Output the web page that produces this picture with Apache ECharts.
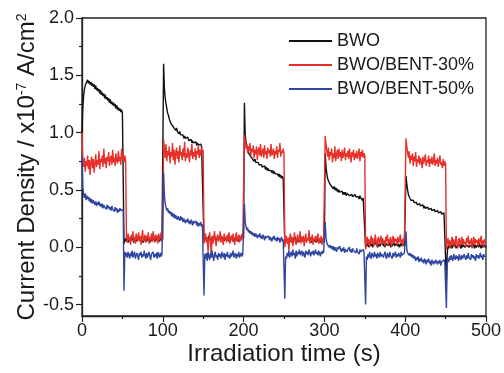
<!DOCTYPE html>
<html><head><meta charset="utf-8">
<script src="https://cdn.jsdelivr.net/npm/echarts@6/dist/echarts.min.js"></script>
<style>html,body{margin:0;padding:0;background:#fff}#c{width:504px;height:373px}</style>
</head><body><div id="c"></div>
<script>
// sampling clock of the recorded traces (seconds between samples)
const SAMPLE_STEP_S = 1;
const seriesNames = ['BWO', 'BWO/BENT-30%', 'BWO/BENT-50%'];
// 10 samples per line, 5 lines per 50 s block; last value = t=500 s
const bwo = [
  1.00,1.22,1.32,1.38,1.41,1.43,1.44,1.46,1.43,1.45,
  1.42,1.44,1.41,1.43,1.40,1.42,1.38,1.41,1.37,1.39,
  1.36,1.38,1.34,1.37,1.33,1.35,1.32,1.34,1.30,1.33,
  1.29,1.31,1.28,1.30,1.26,1.29,1.25,1.27,1.24,1.26,
  1.23,1.25,1.21,1.24,1.20,1.22,1.19,1.21,1.18,1.20,
  1.17,1.16,0.03,0.07,0.05,0.09,0.06,0.04,0.08,0.07,
  0.05,0.09,0.06,0.08,0.04,0.07,0.09,0.05,0.08,0.06,
  0.07,0.10,0.05,0.08,0.06,0.07,0.04,0.09,0.06,0.08,
  0.05,0.07,0.09,0.06,0.04,0.08,0.07,0.05,0.09,0.06,
  0.08,0.05,0.07,0.10,0.06,0.08,0.05,0.07,0.09,0.06,
  0.07,1.60,1.38,1.30,1.25,1.21,1.17,1.15,1.12,1.11,
  1.08,1.09,1.06,1.07,1.04,1.05,1.02,1.04,1.01,1.02,
  0.99,1.01,0.98,0.99,0.97,0.98,0.95,0.97,0.95,0.96,
  0.94,0.96,0.93,0.94,0.92,0.94,0.91,0.93,0.91,0.92,
  0.90,0.92,0.89,0.91,0.89,0.90,0.88,0.90,0.88,0.89,
  0.88,0.05,0.08,0.06,0.09,0.05,0.07,0.10,0.06,0.08,
  0.05,0.09,0.07,0.06,0.10,0.07,0.05,0.08,0.09,0.06,
  0.08,0.07,0.10,0.06,0.09,0.05,0.08,0.06,0.07,0.09,
  0.06,0.08,0.05,0.09,0.07,0.06,0.10,0.05,0.08,0.07,
  0.09,0.06,0.08,0.05,0.07,0.10,0.06,0.08,0.07,0.09,
  0.08,1.26,0.98,0.92,0.88,0.85,0.84,0.81,0.82,0.79,
  0.80,0.77,0.78,0.75,0.77,0.74,0.75,0.73,0.74,0.72,
  0.73,0.71,0.72,0.70,0.71,0.69,0.71,0.68,0.70,0.67,
  0.69,0.67,0.68,0.66,0.67,0.65,0.67,0.64,0.66,0.64,
  0.65,0.63,0.64,0.62,0.64,0.61,0.63,0.60,0.62,0.60,
  0.61,0.03,0.07,0.05,0.08,0.04,0.06,0.09,0.05,0.07,
  0.04,0.08,0.06,0.05,0.09,0.06,0.04,0.07,0.08,0.05,
  0.07,0.06,0.09,0.05,0.07,0.04,0.08,0.06,0.05,0.08,
  0.06,0.09,0.05,0.07,0.04,0.06,0.08,0.05,0.07,0.06,
  0.04,0.07,0.05,0.08,0.06,0.04,0.07,0.05,0.06,0.05,
  0.05,0.82,0.70,0.64,0.60,0.58,0.57,0.55,0.56,0.53,
  0.54,0.51,0.53,0.50,0.52,0.49,0.51,0.48,0.50,0.48,
  0.49,0.47,0.49,0.46,0.48,0.46,0.48,0.45,0.47,0.46,
  0.47,0.45,0.46,0.44,0.46,0.44,0.45,0.43,0.46,0.44,
  0.45,0.43,0.44,0.42,0.45,0.43,0.44,0.41,0.43,0.42,
  0.43,0.00,0.03,0.01,0.04,0.00,0.02,0.05,0.01,0.03,
  0.00,0.04,0.02,0.01,0.05,0.02,0.00,0.03,0.04,0.01,
  0.03,0.02,0.05,0.01,0.03,0.00,0.04,0.02,0.01,0.03,
  0.02,0.04,0.00,0.03,0.01,0.02,0.05,0.01,0.03,0.02,
  0.04,0.01,0.03,0.00,0.02,0.04,0.01,0.03,0.02,0.01,
  0.02,0.62,0.55,0.50,0.46,0.44,0.43,0.41,0.42,0.40,
  0.41,0.39,0.40,0.38,0.39,0.37,0.38,0.36,0.38,0.36,
  0.37,0.35,0.37,0.34,0.36,0.34,0.35,0.33,0.35,0.33,
  0.34,0.32,0.34,0.32,0.33,0.31,0.33,0.31,0.32,0.30,
  0.32,0.30,0.31,0.29,0.31,0.29,0.30,0.28,0.30,0.29,
  0.30,-0.30,-0.05,0.01,-0.01,0.02,0.00,0.03,-0.01,0.01,
  0.02,0.00,0.03,-0.01,0.01,0.02,0.00,0.02,0.01,-0.01,
  0.03,0.00,0.02,0.01,0.00,-0.01,0.02,0.01,0.03,0.00,
  0.01,-0.01,0.02,0.00,0.03,0.01,-0.01,0.02,0.00,0.01,
  0.02,0.00,0.03,0.01,-0.01,0.02,0.00,0.01,0.02,0.00,
  0.01
];
const bent30 = [
  1.00,0.74,0.70,0.78,0.66,0.75,0.71,0.80,0.68,0.76,
  0.63,0.74,0.79,0.69,0.77,0.65,0.73,0.81,0.70,0.76,
  0.72,0.84,0.68,0.77,0.74,0.80,0.70,0.86,0.73,0.78,
  0.69,0.79,0.75,0.83,0.71,0.77,0.80,0.72,0.85,0.74,
  0.78,0.71,0.82,0.76,0.73,0.84,0.75,0.79,0.72,0.86,
  0.77,0.82,0.74,0.80,0.76,0.10,0.04,0.12,0.06,0.09,
  0.02,0.11,0.07,0.14,0.05,0.09,0.03,0.12,0.08,0.05,
  0.13,0.06,0.10,0.02,0.09,0.15,0.05,0.08,0.11,0.04,
  0.10,0.07,0.13,0.03,0.09,0.06,0.12,0.05,0.14,0.08,
  0.04,0.11,0.07,0.10,0.03,0.12,0.06,0.09,0.13,0.05,
  0.07,0.94,0.86,0.78,0.90,0.75,0.84,0.80,0.88,0.73,
  0.83,0.79,0.91,0.76,0.85,0.72,0.82,0.87,0.77,0.84,
  0.74,0.89,0.80,0.83,0.76,0.86,0.79,0.92,0.75,0.82,
  0.78,0.87,0.81,0.74,0.85,0.80,0.90,0.77,0.83,0.79,
  0.86,0.76,0.84,0.81,0.89,0.78,0.85,0.80,0.87,0.83,
  0.85,0.03,0.09,0.12,0.04,0.08,-0.04,0.07,0.13,0.05,
  -0.08,0.10,0.03,0.08,0.14,0.06,0.01,0.09,0.11,0.05,
  0.08,0.14,0.04,0.10,0.06,0.02,0.12,0.07,0.09,0.04,
  0.11,0.06,0.13,0.03,0.08,0.10,0.05,0.12,0.07,0.02,
  0.09,0.13,0.05,0.08,0.11,0.04,0.10,0.06,0.12,0.07,
  0.06,0.98,0.93,0.86,0.90,0.82,0.88,0.84,0.91,0.80,
  0.86,0.83,0.89,0.78,0.85,0.81,0.88,0.76,0.84,0.87,
  0.80,0.90,0.79,0.83,0.86,0.78,0.89,0.81,0.84,0.77,
  0.87,0.82,0.85,0.79,0.90,0.80,0.83,0.86,0.77,0.84,
  0.81,0.88,0.78,0.85,0.83,0.91,0.79,0.84,0.82,0.86,
  0.82,0.00,0.06,0.10,0.03,0.08,-0.03,0.07,0.12,0.04,
  0.09,0.01,0.06,0.13,0.05,0.02,0.08,0.11,0.04,0.07,
  0.14,0.03,0.09,0.05,0.10,0.01,0.07,0.12,0.04,0.08,
  0.06,0.15,0.03,0.09,0.05,0.11,0.02,0.08,0.06,0.10,
  0.04,0.09,0.12,0.03,0.07,0.05,0.10,0.02,0.08,0.06,
  0.05,0.97,0.90,0.84,0.79,0.87,0.76,0.83,0.80,0.86,
  0.74,0.82,0.78,0.88,0.75,0.81,0.85,0.77,0.86,0.79,
  0.83,0.75,0.85,0.78,0.81,0.87,0.76,0.82,0.79,0.84,
  0.77,0.86,0.80,0.74,0.83,0.79,0.85,0.76,0.82,0.78,
  0.84,0.77,0.81,0.86,0.75,0.83,0.79,0.85,0.78,0.82,
  0.80,-0.02,0.05,0.09,0.02,0.07,0.00,0.06,0.10,0.03,
  0.08,0.01,0.05,0.11,0.04,0.00,0.07,0.09,0.02,0.06,
  0.10,0.03,0.08,0.04,0.06,0.01,0.09,0.05,0.11,0.02,
  0.07,0.04,0.09,0.00,0.06,0.10,0.03,0.08,0.05,0.07,
  0.02,0.09,0.04,0.06,0.11,0.03,0.07,0.01,0.08,0.05,
  0.04,0.95,0.88,0.82,0.78,0.84,0.73,0.80,0.76,0.82,
  0.71,0.79,0.75,0.83,0.70,0.77,0.74,0.80,0.72,0.78,
  0.75,0.69,0.79,0.73,0.77,0.81,0.71,0.76,0.74,0.80,
  0.70,0.77,0.73,0.79,0.72,0.75,0.82,0.71,0.76,0.73,
  0.78,0.70,0.75,0.80,0.72,0.74,0.69,0.77,0.71,0.75,
  0.73,-0.02,0.04,0.08,0.01,0.06,-0.01,0.05,0.09,0.02,
  0.07,0.00,0.04,0.10,0.03,-0.01,0.06,0.08,0.01,0.05,
  0.09,0.02,0.07,0.03,0.05,0.00,0.08,0.04,0.10,0.01,
  0.06,0.03,0.08,-0.01,0.05,0.09,0.02,0.07,0.04,0.06,
  0.01,0.08,0.03,0.05,0.10,0.02,0.06,0.00,0.07,0.04,
  0.05
];
const bent50 = [
  0.80,0.52,0.46,0.43,0.47,0.41,0.45,0.42,0.44,0.40,
  0.43,0.39,0.42,0.38,0.41,0.39,0.37,0.40,0.36,0.39,
  0.37,0.40,0.36,0.38,0.35,0.38,0.34,0.37,0.35,0.36,
  0.33,0.37,0.34,0.36,0.33,0.35,0.32,0.36,0.33,0.34,
  0.31,0.35,0.32,0.34,0.30,0.33,0.31,0.34,0.32,0.33,
  0.32,0.33,-0.38,-0.04,-0.08,-0.05,-0.09,-0.04,-0.07,-0.10,
  -0.05,-0.08,-0.03,-0.09,-0.06,-0.04,-0.10,-0.07,-0.05,-0.08,
  -0.11,-0.05,-0.07,-0.04,-0.09,-0.06,-0.08,-0.03,-0.07,-0.10,
  -0.05,-0.09,-0.06,-0.04,-0.08,-0.11,-0.06,-0.07,-0.04,-0.09,
  -0.06,-0.08,-0.05,-0.10,-0.04,-0.07,-0.09,-0.05,-0.08,-0.06,
  -0.05,0.65,0.45,0.38,0.35,0.32,0.34,0.30,0.32,0.29,
  0.31,0.27,0.30,0.26,0.29,0.25,0.28,0.26,0.24,0.27,
  0.25,0.23,0.27,0.24,0.26,0.22,0.25,0.23,0.21,0.24,
  0.22,0.25,0.21,0.23,0.20,0.24,0.22,0.19,0.23,0.21,
  0.20,0.23,0.19,0.22,0.18,0.21,0.19,0.22,0.18,0.20,
  0.20,-0.42,-0.06,-0.10,-0.05,-0.12,-0.04,-0.08,-0.11,-0.05,
  -0.09,-0.03,-0.08,-0.12,-0.06,-0.04,-0.09,-0.07,-0.11,-0.05,
  -0.08,-0.06,-0.10,-0.04,-0.07,-0.09,-0.05,-0.11,-0.06,-0.08,
  -0.04,-0.09,-0.07,-0.10,-0.05,-0.08,-0.06,-0.03,-0.09,-0.07,
  -0.05,-0.10,-0.06,-0.08,-0.04,-0.09,-0.07,-0.05,-0.08,-0.06,
  -0.05,0.38,0.22,0.18,0.15,0.17,0.13,0.15,0.12,0.14,
  0.11,0.13,0.10,0.12,0.09,0.12,0.10,0.08,0.11,0.09,
  0.12,0.08,0.10,0.07,0.11,0.09,0.06,0.10,0.08,0.09,
  0.07,0.10,0.06,0.09,0.08,0.05,0.09,0.07,0.10,0.06,
  0.08,0.05,0.09,0.06,0.08,0.04,0.07,0.09,0.05,0.07,
  0.06,-0.45,-0.08,-0.10,-0.05,-0.08,-0.03,-0.09,-0.06,-0.04,
  -0.08,-0.02,-0.07,-0.05,-0.10,-0.03,-0.08,-0.04,-0.06,-0.02,
  -0.07,-0.05,-0.03,-0.08,-0.04,-0.06,-0.09,-0.03,-0.06,-0.04,
  -0.07,-0.02,-0.05,-0.08,-0.04,-0.06,-0.03,-0.07,-0.05,-0.02,
  -0.06,-0.04,-0.07,-0.03,-0.05,-0.08,-0.04,-0.06,-0.03,-0.05,
  -0.04,0.22,0.08,0.04,0.02,0.03,0.00,0.02,-0.01,0.01,
  -0.02,0.01,-0.03,0.00,-0.01,-0.04,0.00,-0.02,-0.03,0.01,
  -0.02,-0.04,-0.01,-0.03,0.00,-0.05,-0.02,-0.01,-0.04,-0.02,
  -0.03,0.00,-0.04,-0.02,-0.05,-0.01,-0.03,-0.04,-0.02,-0.05,
  -0.01,-0.04,-0.03,-0.06,-0.02,-0.04,-0.03,-0.05,-0.02,-0.04,
  -0.03,-0.50,-0.08,-0.11,-0.06,-0.09,-0.04,-0.08,-0.10,-0.05,
  -0.07,-0.09,-0.04,-0.08,-0.06,-0.10,-0.05,-0.07,-0.09,-0.04,
  -0.08,-0.06,-0.05,-0.09,-0.06,-0.04,-0.08,-0.10,-0.05,-0.07,
  -0.09,-0.04,-0.07,-0.06,-0.10,-0.05,-0.08,-0.06,-0.04,-0.09,
  -0.06,-0.08,-0.05,-0.07,-0.09,-0.04,-0.07,-0.06,-0.08,-0.05,
  -0.06,0.14,-0.02,-0.05,-0.04,-0.07,-0.05,-0.08,-0.06,-0.09,
  -0.07,-0.10,-0.08,-0.12,-0.09,-0.11,-0.08,-0.13,-0.10,-0.12,
  -0.09,-0.13,-0.11,-0.14,-0.10,-0.12,-0.15,-0.11,-0.13,-0.10,
  -0.14,-0.12,-0.16,-0.11,-0.13,-0.15,-0.12,-0.14,-0.11,-0.13,
  -0.15,-0.12,-0.14,-0.11,-0.16,-0.13,-0.12,-0.14,-0.11,-0.13,
  -0.12,-0.53,-0.12,-0.10,-0.13,-0.08,-0.11,-0.07,-0.10,-0.12,
  -0.06,-0.09,-0.11,-0.07,-0.10,-0.08,-0.12,-0.06,-0.09,-0.11,
  -0.07,-0.10,-0.08,-0.06,-0.09,-0.11,-0.07,-0.10,-0.05,-0.09,
  -0.08,-0.11,-0.06,-0.09,-0.07,-0.10,-0.08,-0.12,-0.06,-0.09,
  -0.07,-0.10,-0.08,-0.05,-0.09,-0.07,-0.11,-0.06,-0.08,-0.09,
  -0.08
];
const yMajorTicks = [-0.5, 0, 0.5, 1.0, 1.5, 2.0];
const yMinorTicks = [-0.25, 0.25, 0.75, 1.25, 1.75];
const seriesColors = ['#111111', '#e8302a', '#2f45a0'];

const FONT = '"Liberation Sans", Arial, sans-serif';
const TXT = '#1a1a1a';
function toPairs(vals) { return vals.map((v, i) => [i * SAMPLE_STEP_S, v]); }
const allSeries = [bwo, bent30, bent50];

const chart = echarts.init(document.getElementById('c'), null, { renderer: 'canvas' });
chart.setOption({
  animation: false,
  backgroundColor: '#fff',
  grid: { left: 82, right: 18, top: 18, bottom: 57, show: true, borderColor: '#222', borderWidth: 1.3, backgroundColor: 'transparent' },
  legend: {
    orient: 'vertical', left: 289, top: 32, padding: 0, itemWidth: 43, itemHeight: 2, itemGap: 6, icon: 'rect',
    textStyle: { fontFamily: FONT, fontSize: 18, color: TXT, lineHeight: 18 },
    data: seriesNames
  },
  xAxis: {
    type: 'value', min: 0, max: 500, interval: 100,
    name: 'Irradiation time (s)', nameLocation: 'middle', nameGap: 26, nameMoveOverlap: false,
    nameTextStyle: { fontFamily: FONT, fontSize: 24, color: TXT },
    axisLine: { onZero: false, lineStyle: { color: '#222', width: 1.3 } },
    axisTick: { show: true, inside: false, length: 6, lineStyle: { color: '#222', width: 1.2 } },
    minorTick: { show: true, splitNumber: 2, length: 3, lineStyle: { color: '#222', width: 1.2 } },
    axisLabel: { fontFamily: FONT, fontSize: 18, color: TXT, margin: 6 },
    splitLine: { show: false }
  },
  yAxis: [{
    type: 'value', min: -0.6, max: 2.0, position: 'left',
    name: '{a|Current Density / x10}{s|-7}{a| A/cm}{s|2}',
    nameLocation: 'middle', nameGap: 43, nameRotate: 90, nameMoveOverlap: false,
    nameTextStyle: {
      fontFamily: FONT, fontSize: 24, color: TXT,
      rich: {
        a: { fontFamily: FONT, fontSize: 24, color: TXT },
        s: { fontFamily: FONT, fontSize: 14, color: TXT, verticalAlign: 'top' }
      }
    },
    axisLine: { show: true, onZero: false, lineStyle: { color: '#222', width: 1.3 } },
    axisTick: { show: true, inside: false, length: 6, customValues: yMajorTicks, lineStyle: { color: '#222', width: 1.2 } },
    axisLabel: { fontFamily: FONT, fontSize: 18, color: TXT, margin: 8, customValues: yMajorTicks, formatter: v => v.toFixed(1) },
    splitLine: { show: false }
  }, {
    type: 'value', min: -0.6, max: 2.0, position: 'left', offset: 0,
    axisLine: { show: false, onZero: false },
    axisTick: { show: true, inside: false, length: 3, customValues: yMinorTicks, lineStyle: { color: '#222', width: 1.2 } },
    axisLabel: { show: false },
    splitLine: { show: false }
  }],
  series: allSeries.map((vals, k) => ({
    name: seriesNames[k], type: 'line', yAxisIndex: 0, showSymbol: false, symbol: 'none',
    data: toPairs(vals), z: 2 + k,
    lineStyle: { color: seriesColors[k], width: 1.4 }, itemStyle: { color: seriesColors[k] }
  }))
});
</script></body></html>
